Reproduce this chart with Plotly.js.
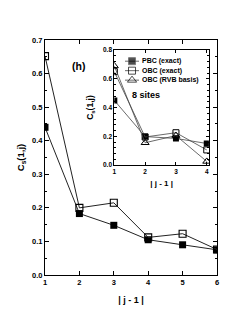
<!DOCTYPE html>
<html><head><meta charset="utf-8">
<script src="https://cdn.plot.ly/plotly-3.0.1.min.js"></script>
<style>html,body{margin:0;padding:0;background:#fff;}</style>
</head><body><div id="chart" style="width:252px;height:327px;"></div>
<script>
// main panel
const mainX = [1, 2, 3, 4, 5, 6];
const mainPBC = [0.440, 0.183, 0.148, 0.105, 0.090, 0.075];
const mainOBC = [0.652, 0.200, 0.215, 0.112, 0.123, 0.076];
// inset (8 sites)
const insetX = [1, 2, 3, 4];
const insetPBC = [0.450, 0.198, 0.185, 0.150];
const insetOBC = [0.650, 0.195, 0.225, 0.105];
const insetRVB = [0.690, 0.155, 0.205, 0.025];
const seriesNames = ['PBC (exact)', 'OBC (exact)', 'OBC (RVB basis)'];

const F = 'Liberation Sans, Arial, sans-serif';
const lineC = '#222';
const insetMarkers = [
  {symbol: 'square', size: 6, color: '#000'},
  {symbol: 'square-open', size: 6, color: '#000', line: {width: 1}},
  {symbol: 'triangle-up-open', size: 7, color: '#000', line: {width: 1}}
];
const insetData = [insetPBC, insetOBC, insetRVB];

const traces = [
  {x: mainX, y: mainPBC, mode: 'lines+markers', showlegend: false,
   line: {color: lineC, width: 1}, marker: {symbol: 'square', size: 7, color: '#000'}},
  {x: mainX, y: mainOBC, mode: 'lines+markers', showlegend: false,
   line: {color: lineC, width: 1}, marker: {symbol: 'square-open', size: 7, color: '#000', line: {width: 1.1}}}
];
insetData.forEach((d, i) => {
  traces.push({x: insetX, y: d, mode: 'lines+markers', showlegend: false, xaxis: 'x2', yaxis: 'y2',
    line: {color: '#444', width: 0.8}, marker: insetMarkers[i]});
});
// hand-built legend on a hidden axis: a short line with the symbol in the middle
seriesNames.forEach((n, i) => {
  traces.push({x: [0, 0.5, 1], y: [i, i, i], mode: 'lines+markers', showlegend: false, xaxis: 'x3', yaxis: 'y3',
    line: {color: '#444', width: 0.8},
    marker: Object.assign({}, insetMarkers[i], {size: [0, insetMarkers[i].size + 1, 0]})});
});

const axBase = {showline: true, linecolor: '#000', linewidth: 1, mirror: 'ticks', ticks: 'inside',
  ticklen: 4, tickcolor: '#000', showgrid: false, zeroline: false,
  tickfont: {family: F, size: 7.5, color: '#000', weight: 'bold'}};
const hidden = {visible: false, showgrid: false, zeroline: false, fixedrange: true};
const layout = {
  width: 252, height: 327,
  margin: {l: 45, r: 35, t: 40, b: 52},
  paper_bgcolor: '#fff', plot_bgcolor: '#fff',
  font: {family: F, color: '#000'},
  showlegend: false,
  xaxis: Object.assign({}, axBase, {range: [1, 6], dtick: 1, tick0: 1,
    title: {text: '| j - 1 |', font: {family: F, size: 9, weight: 'bold'}, standoff: 10}}),
  yaxis: Object.assign({}, axBase, {range: [0, 0.7], dtick: 0.1, tickformat: '.1f',
    title: {text: 'C<sub>s</sub>(1,j)', font: {family: F, size: 9.5, weight: 'bold'}, standoff: 5},
    minor: {ticks: 'inside', ticklen: 2, dtick: 0.05, tickcolor: '#000'}}),
  xaxis2: Object.assign({}, axBase, {domain: [0.403, 0.953], anchor: 'y2', range: [1, 4.07], dtick: 1, tick0: 1,
    ticklen: 3, tickfont: {family: F, size: 6.5, color: '#000', weight: 'bold'},
    title: {text: '| j - 1 |', font: {family: F, size: 8, weight: 'bold'}, standoff: 6}}),
  yaxis2: Object.assign({}, axBase, {domain: [0.468, 0.957], anchor: 'x2', range: [0, 0.8], dtick: 0.2, tickformat: '.1f',
    ticklen: 3, tickfont: {family: F, size: 6.5, color: '#000', weight: 'bold'},
    minor: {ticks: 'inside', ticklen: 1.5, dtick: 0.04, tickcolor: '#000'},
    title: {text: 'C<sub>s</sub>(1,j)', font: {family: F, size: 8.5, weight: 'bold'}, standoff: 7}}),
  xaxis3: Object.assign({}, hidden, {domain: [0.465, 0.547], anchor: 'y3', range: [0, 1]}),
  yaxis3: Object.assign({}, hidden, {domain: [0.809, 0.93], anchor: 'x3', range: [2.5, -0.5]}),
  annotations: [
    {xref: 'paper', yref: 'paper', x: 0.146, y: 0.925, text: '(h)', showarrow: false,
     font: {family: F, size: 10.5, color: '#000', weight: 'bold'}},
    {xref: 'paper', yref: 'paper', x: 0.68, y: 0.796, text: '8 sites', showarrow: false,
     font: {family: F, size: 9, color: '#000', weight: 'bold'}}
  ].concat(seriesNames.map((n, i) => ({xref: 'x3', yref: 'y3', x: 1, y: i, text: n, showarrow: false,
     xanchor: 'left', xshift: 1, font: {family: F, size: 7, color: '#000', weight: 'bold'}})))
};
Plotly.newPlot('chart', traces, layout, {displayModeBar: false, staticPlot: true});
</script></body></html>
